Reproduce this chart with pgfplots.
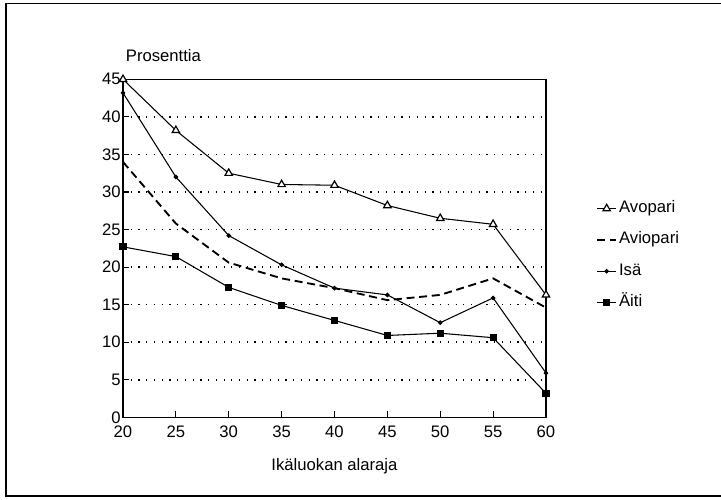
\documentclass[border=0pt]{standalone}
\usepackage{fontspec}
\setmainfont{Liberation Sans}
\usepackage{pgfplots}
\pgfplotsset{compat=1.18}

\pgfplotstableread{
x  avopari aviopari isa aiti
20 45.0 34.0 43.2 22.7
25 38.2 25.8 32.0 21.4
30 32.5 20.6 24.2 17.3
35 31.0 18.5 20.3 14.9
40 30.9 17.2 17.2 12.9
45 28.2 15.6 16.3 10.9
50 26.5 16.3 12.6 11.2
55 25.7 18.5 15.9 10.6
60 16.3 14.6  5.9  3.2
}\data

\newcommand{\chartfont}{\fontsize{12.5}{15}\selectfont}

\begin{document}
\begin{tikzpicture}
% image is 721x499 px, 1px = 0.75pt, axis box corner at px (123,417.3)
\useasboundingbox (-92.25pt,-61.3pt) rectangle (448.5pt,313pt);
\begin{axis}[
    name=ax, at={(0,0)}, anchor=south west,
    scale only axis, width=317.25pt, height=253.5pt,
    xmin=20, xmax=60, ymin=0, ymax=45,
    xtick={20,25,...,60}, ytick={0,5,...,45},
    xtick pos=bottom, ytick pos=left,
    tick align=inside, major tick length=4.5pt,
    tick style={line width=0.9pt, black},
    axis line style={line width=1pt},
    /pgf/number format/assume math mode=true,
    every tick label/.append style={font=\chartfont},
    label style={font=\chartfont},
    xticklabel style={yshift=-3pt},
    yticklabel style={inner xsep=1.5pt},
    ymajorgrids,
    major grid style={line width=1.1pt, dash pattern=on 0.9pt off 4.9pt, black},
    xlabel={Ikäluokan alaraja},
    xlabel style={at={(axis description cs:0.5,0)}, anchor=base, yshift=-39.75pt},
    ylabel={Prosenttia},
    ylabel style={rotate=-90, at={(axis description cs:0,1)}, anchor=base west,
        inner sep=0pt, xshift=2pt, yshift=13.2pt},
    legend style={at={(axis description cs:1,0.65)}, anchor=north west,
        xshift=37.5pt, draw=none, fill=none, inner sep=0pt, row sep=7.5pt,
        nodes={inner xsep=1.5pt, text height=9pt, text depth=3pt},
        font=\chartfont},
    legend cell align=left,
    legend image code/.code={\draw[mark repeat=2,mark phase=2,#1]
        plot coordinates {(0cm,0cm) (0.25cm,0cm) (0.5cm,0cm)};},
]
\addplot[black, line width=0.8pt, mark=triangle*, mark size=3.2pt,
    mark options={fill=white, solid, line width=0.9pt}] table[x=x, y=avopari] {\data};
\addlegendentry{Avopari}
\addplot[black, line width=1.4pt, dash pattern=on 6pt off 3.5pt, no marks] table[x=x, y=aviopari] {\data};
\addlegendentry{Aviopari}
\addplot[black, line width=0.8pt, mark=*, mark size=1.3pt] table[x=x, y=isa] {\data};
\addlegendentry{Isä}
\addplot[black, line width=0.8pt, mark=square*, mark size=2.3pt] table[x=x, y=aiti] {\data};
\addlegendentry{Äiti}
\end{axis}
\draw[line width=0.8pt] (450pt,310.7pt) -- (-87.75pt,310.7pt) -- (-87.75pt,-59pt) -- (450pt,-59pt);
\end{tikzpicture}
\end{document}
